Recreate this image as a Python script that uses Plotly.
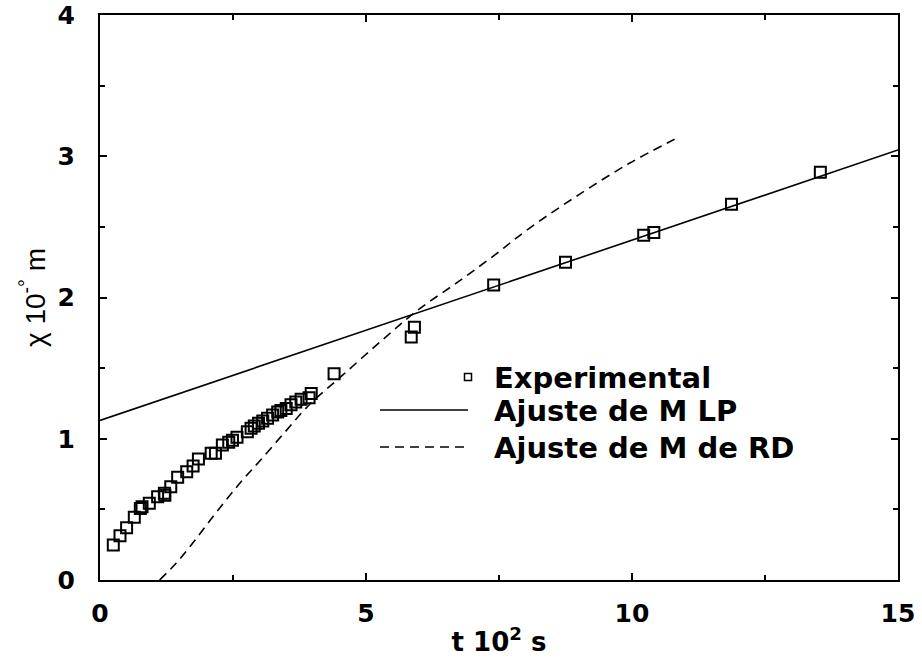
import plotly.graph_objects as go

# Experimental measurements: t (10^2 s) vs chi (10^-o m)
t_exp = [0.25, 0.376, 0.50, 0.645, 0.758, 0.79, 0.927, 1.083, 1.21, 1.22,
         1.33, 1.46, 1.63, 1.75, 1.85, 2.09, 2.17, 2.30, 2.42, 2.49,
         2.575, 2.77, 2.84, 2.90, 2.98, 3.06, 3.15, 3.245, 3.34, 3.40,
         3.50, 3.59, 3.68, 3.78, 3.93, 3.97, 4.40, 5.85, 5.91, 7.40,
         8.75, 10.22, 10.41, 11.87, 13.54]
chi_exp = [0.248, 0.314, 0.37, 0.444, 0.507, 0.519, 0.543, 0.59, 0.614, 0.60,
           0.66, 0.727, 0.767, 0.807, 0.857, 0.897, 0.897, 0.956, 0.975, 0.99,
           1.01, 1.05, 1.074, 1.09, 1.11, 1.126, 1.145, 1.168, 1.19, 1.20,
           1.215, 1.24, 1.26, 1.28, 1.29, 1.32, 1.46, 1.72, 1.79, 2.088,
           2.25, 2.44, 2.46, 2.66, 2.886]

# Linear fit (M LP)
t_lp = [0.0, 15.0]
chi_lp = [1.13, 3.044]

# RD model fit
t_rd = [1.12, 1.43, 1.74, 2.05, 2.37, 2.68, 2.99, 3.46, 3.93, 4.56,
        5.31, 5.97, 6.69, 7.38, 8.07, 9.01, 9.95, 10.80]
chi_rd = [0.0, 0.118, 0.26, 0.413, 0.566, 0.708, 0.837, 1.04, 1.239, 1.45,
          1.70, 1.91, 2.10, 2.29, 2.49, 2.73, 2.95, 3.12]

legend_labels = ["Experimental", "Ajuste de M LP", "Ajuste de M de RD"]

BOLD = "DejaVu Sans"

fig = go.Figure()
fig.add_trace(go.Scatter(x=t_lp, y=chi_lp, mode="lines",
                         line=dict(color="black", width=1.6), showlegend=False))
fig.add_trace(go.Scatter(x=t_rd, y=chi_rd, mode="lines", line_shape="spline",
                         line=dict(color="black", width=1.6, dash="9px,6px"),
                         showlegend=False))
fig.add_trace(go.Scatter(x=t_exp, y=chi_exp, mode="markers",
                         marker=dict(symbol="square-open", size=11, color="black",
                                     line=dict(width=2, color="black")),
                         showlegend=False))

# Plot area in pixels: x 100..898, y 15..580
L, R, T, B = 100, 898, 15, 580
W, H = R - L, B - T


def px(x):
    return (x - L) / W


def py(y):
    return (B - y) / H


# Hand-drawn key
rows = [377, 410, 447]
fig.add_shape(type="rect", xref="paper", yref="paper",
              x0=px(464.5), x1=px(471.5), y0=py(380.5), y1=py(373.5),
              line=dict(color="black", width=1.5))
fig.add_shape(type="line", xref="paper", yref="paper",
              x0=px(380), x1=px(468), y0=py(rows[1]), y1=py(rows[1]),
              line=dict(color="black", width=1.6))
fig.add_shape(type="line", xref="paper", yref="paper",
              x0=px(380), x1=px(468), y0=py(rows[2]), y1=py(rows[2]),
              line=dict(color="black", width=1.6, dash="9px,6px"))
for label, r in zip(legend_labels, rows):
    fig.add_annotation(xref="paper", yref="paper", x=px(492), y=py(r + 1),
                       text="<b>" + label + "</b>", showarrow=False,
                       xanchor="left", yanchor="middle",
                       font=dict(family=BOLD, size=29, color="black"))

axis_common = dict(showline=True, linecolor="black", linewidth=2, mirror="allticks",
                   ticks="inside", ticklen=7, tickwidth=1.5, tickcolor="black",
                   showgrid=False, zeroline=False, automargin=False,
                   tickfont=dict(family=BOLD, size=25, color="black", weight="bold"))

fig.update_xaxes(range=[0, 15], tickvals=[0, 5, 10, 15],
                 minor=dict(dtick=2.5, ticks="inside", ticklen=5, tickwidth=1.5,
                            tickcolor="black", showgrid=False),
                 ticklabelstandoff=10,
                 title=dict(text="<b>t 10<sup>2</sup> s</b>",
                            font=dict(family=BOLD, size=26, color="black"),
                            standoff=6),
                 **axis_common)
fig.update_yaxes(range=[0, 4], tickvals=[0, 1, 2, 3, 4],
                 minor=dict(dtick=0.5, ticks="inside", ticklen=5, tickwidth=1.5,
                            tickcolor="black", showgrid=False),
                 ticklabelstandoff=18,
                 title=dict(text="\u03c7 10<sup>-\u00b0</sup> m",
                            font=dict(family="Liberation Sans", size=28, color="black"),
                            standoff=4),
                 **axis_common)

fig.update_layout(width=922, height=663, paper_bgcolor="white", plot_bgcolor="white",
                  margin=dict(l=L, r=922 - R, t=T, b=663 - B), showlegend=False)

fig.write_html("out.html")
